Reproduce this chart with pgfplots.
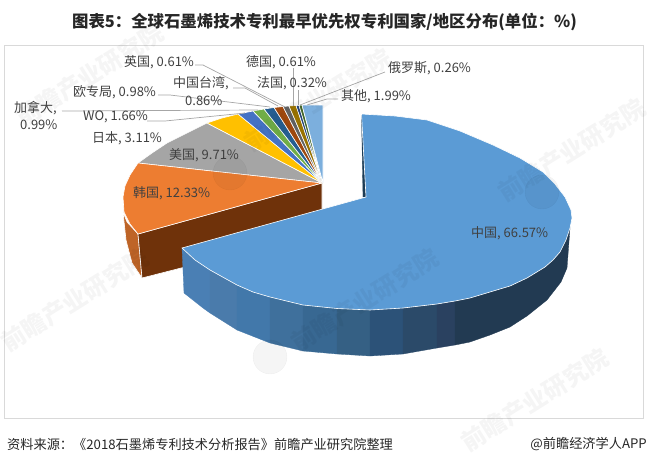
\documentclass[border=0pt]{standalone}
\usepackage{fontspec}
\setmainfont{Noto Sans CJK SC}
\usepackage{pgfplots}
\pgfplotsset{compat=1.18}
\definecolor{c1}{HTML}{5B9BD5}
\definecolor{c2}{HTML}{ED7D31}
\definecolor{c3}{HTML}{A5A5A5}
\definecolor{c4}{HTML}{FFC000}
\definecolor{c5}{HTML}{4472C4}
\definecolor{c6}{HTML}{70AD47}
\definecolor{c7}{HTML}{255E91}
\definecolor{c8}{HTML}{9E480E}
\definecolor{c9}{HTML}{636363}
\definecolor{c10}{HTML}{997300}
\definecolor{c11}{HTML}{264478}
\definecolor{c12}{HTML}{43682B}
\definecolor{c13}{HTML}{7CAFDD}
\definecolor{lab}{HTML}{404040}
\definecolor{lead}{HTML}{A6A6A6}
\definecolor{w0}{HTML}{4A7FB4}
\definecolor{w1}{HTML}{4A7BAB}
\definecolor{w2}{HTML}{4278AA}
\definecolor{w3}{HTML}{3F709C}
\definecolor{w4}{HTML}{386892}
\definecolor{w5}{HTML}{356084}
\definecolor{w6}{HTML}{2C5278}
\definecolor{w7}{HTML}{2B4A69}
\definecolor{w8}{HTML}{2A4160}
\definecolor{w9}{HTML}{223A52}
\definecolor{w10}{HTML}{1D3C55}
\tikzset{
  wm/.style={overlay, rotate=32, text=black, opacity=0.04, font=\fontsize{24}{26}\selectfont\bfseries},
  lbl/.style={font=\fontsize{13}{15}\selectfont, text=lab, inner sep=0pt, anchor=west},
}
\begin{document}
\begin{tikzpicture}
\begin{axis}[
    scale only axis, width=648pt, height=464pt,
    xmin=0, xmax=648, ymin=0, ymax=464, y dir=reverse,
    axis line style={draw=none}, xtick=\empty, ytick=\empty,
    clip=false,
    slice/.style={draw=white, line width=0.6pt, fill=#1},
    wall/.style={draw=#1, line width=0.3pt, fill=#1},
    leader/.style={draw=lead, line width=0.7pt},
]
% frame
\addplot[draw=black!15, line width=0.8pt] coordinates {(4,45) (643,45) (643,418) (4,418)} --cycle;

% rear slices, apex (322,183)
\addplot[slice=c3] coordinates {(322,183) (138,163) (152,153) (167,143) (187,133) (207,123)} --cycle;
\addplot[slice=c4] coordinates {(322,183) (207,123) (222,118) (238,114)} --cycle;
\addplot[slice=c5] coordinates {(322,183) (238,114) (253,111)} --cycle;
\addplot[slice=c6] coordinates {(322,183) (253,111) (264,109)} --cycle;
\addplot[slice=c7] coordinates {(322,183) (264,109) (274,107.5)} --cycle;
\addplot[slice=c8] coordinates {(322,183) (274,107.5) (283,106.5)} --cycle;
\addplot[slice=c9] coordinates {(322,183) (283,106.5) (289,106)} --cycle;
\addplot[slice=c10] coordinates {(322,183) (289,106) (296,105.5)} --cycle;
\addplot[slice=c11] coordinates {(322,183) (296,105.5) (299,105.3)} --cycle;
\addplot[slice=c12] coordinates {(322,183) (299,105.3) (302,105)} --cycle;
\addplot[slice=c13] coordinates {(323,183) (302,105) (323,105)} --cycle;

% Korea slice walls and top
\addplot[slice={c2!80!black}] coordinates {(123,212) (127,222) (138,234) (142,278) (132,263) (126,240)} --cycle;
\addplot[slice={c8!70!black}] coordinates {(138,234) (322,183) (322,232) (142,278)} --cycle;
\addplot[slice=c2] coordinates {(322,183) (138,163) (130,175) (125,186) (123,197) (124,212) (130,224) (138,234)} --cycle;

% China slice wall, left to right
\addplot[wall=w0] coordinates {(182,248) (195,260) (210,270) (210,313) (203,308) (184,293)} --cycle;
\addplot[wall=w1] coordinates {(210,270) (237,285) (237,330) (210,313)} --cycle;
\addplot[wall=w2] coordinates {(237,285) (253,292) (270,297) (270,343) (237,330)} --cycle;
\addplot[wall=w3] coordinates {(270,297) (303,305) (303,351) (270,343)} --cycle;
\addplot[wall=w4] coordinates {(303,305) (337,308.5) (337,354) (303,351)} --cycle;
\addplot[wall=w5] coordinates {(337,308.5) (370,310) (370,356) (337,354)} --cycle;
\addplot[wall=w6] coordinates {(370,310) (403,308) (403,354) (370,356)} --cycle;
\addplot[wall=w7] coordinates {(403,308) (437,304) (437,348) (403,354)} --cycle;
\addplot[wall=w8] coordinates {(437,304) (455,301) (455,345) (437,348)} --cycle;
\addplot[wall=w9] coordinates {(455,301) (470,298) (490,292) (510,286) (527,278) (545,267) (553,260) (560,252) (570,228) (567,268) (561,282) (547,300) (527,316) (510,327) (490,335) (470,342) (455,345)} --cycle;
\addplot[wall=w10] coordinates {(361.5,115) (366,197) (363,197)} --cycle;

% China top face
\addplot[slice=c1] coordinates {(366,197) (361.5,114) (395,116) (427,120) (460,131) (493,145) (520,158) (543,172) (555,184) (565,197) (571,210) (572,218) (570,228) (566,240) (560,252) (553,260) (545,267) (527,278) (510,286) (490,292) (470,298) (455,301) (437,304) (403,308) (370,310) (337,308.5) (303,305) (270,297) (253,292) (237,285) (210,270) (195,260) (182,248)} --cycle;

% leaders
\addplot[leader] coordinates {(195,65) (203,65) (285,107)};
\addplot[leader] coordinates {(233,88) (245,88) (278,106)};
\addplot[leader] coordinates {(158,95) (170,95) (270,107)};
\addplot[leader] coordinates {(62,111) (258,110)};
\addplot[leader] coordinates {(147,121) (165,121) (245,113)};
\addplot[leader] coordinates {(293,68) (293,106)};
\addplot[leader] coordinates {(298,90) (298,105)};
\addplot[leader] coordinates {(385,72) (300,105)};
\addplot[leader] coordinates {(338,99) (327,99) (307,105)};

% watermark logos
\addplot[only marks, mark=*, mark size=17pt, mark options={draw=none, fill=black, opacity=0.04}] coordinates {(542,192) (230,173) (270,357)};

% watermark text
\node[wm] at (axis cs:90,75) {前瞻产业研究院};
\node[wm] at (axis cs:318,100) {前瞻产业研究院};
\node[wm] at (axis cs:75,300) {前瞻产业研究院};
\node[wm] at (axis cs:365,300) {前瞻产业研究院};
\node[wm] at (axis cs:572,150) {前瞻产业研究院};
\node[wm] at (axis cs:535,400) {前瞻产业研究院};

% labels
\node[lbl] at (axis cs:124,62) {英国, 0.61\%};
\node[lbl] at (axis cs:173,83) {中国台湾,};
\node[lbl] at (axis cs:185,101) {0.86\%};
\node[lbl] at (axis cs:73,92) {欧专局, 0.98\%};
\node[lbl] at (axis cs:14,108) {加拿大,};
\node[lbl] at (axis cs:20,125) {0.99\%};
\node[lbl] at (axis cs:83,117) {WO, 1.66\%};
\node[lbl] at (axis cs:92,138) {日本, 3.11\%};
\node[lbl] at (axis cs:169,155) {美国, 9.71\%};
\node[lbl] at (axis cs:133,193) {韩国, 12.33\%};
\node[lbl] at (axis cs:246,62) {德国, 0.61\%};
\node[lbl] at (axis cs:257,83) {法国, 0.32\%};
\node[lbl] at (axis cs:388,68) {俄罗斯, 0.26\%};
\node[lbl] at (axis cs:341,96) {其他, 1.99\%};
\node[lbl] at (axis cs:471,233) {中国, 66.57\%};

% title and footer
\node[inner sep=0pt, font=\fontsize{16.4}{18}\selectfont\bfseries, text=black!85] at (axis cs:324.5,22) {图表5：全球石墨烯技术专利最早优先权专利国家/地区分布(单位：\%)};
\node[lbl, font=\fontsize{13.2}{15}\selectfont, text=black!85] at (axis cs:7,444) {资料来源：《2018石墨烯专利技术分析报告》前瞻产业研究院整理};
\node[lbl, anchor=east, font=\fontsize{13.2}{15}\selectfont, text=black!85] at (axis cs:647,444) {@前瞻经济学人APP};
\end{axis}
\end{tikzpicture}
\end{document}
